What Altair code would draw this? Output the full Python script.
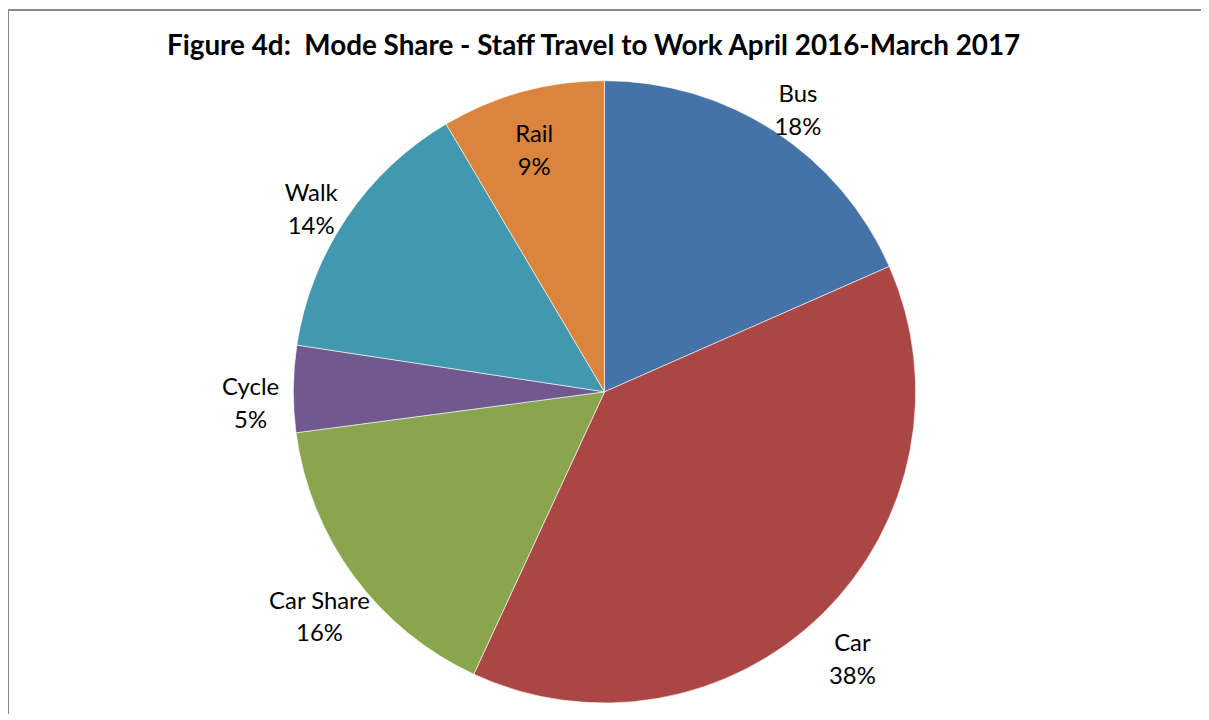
import altair as alt
import pandas as pd

modes = ["Bus", "Car", "Car Share", "Cycle", "Walk", "Rail"]
shares = [18.4, 38.5, 16.0, 4.5, 14.1, 8.5]
pct_labels = ["18%", "38%", "16%", "5%", "14%", "9%"]
colors = ["#4572A7", "#AA4643", "#89A54E", "#71588F", "#4198AF", "#DB843D"]
title_text = ["Figure 4d:\u00a0 Mode Share - Staff Travel to Work April 2016-March 2017"]

df = pd.DataFrame({
    "mode": modes,
    "share": shares,
    "pct": pct_labels,
    "order": list(range(len(modes))),
})
title_df = pd.DataFrame({"title": title_text})

W, H = 1200, 648
R = 313
total = float(sum(shares))
theta_scale = alt.Scale(domain=[0, total])

base = alt.Chart(df).transform_window(
    cum="sum(share)", sort=[alt.SortField("order")],
    frame=[None, 0],
).transform_calculate(
    start="datum.cum - datum.share",
    mid="datum.cum - datum.share / 2",
    label="[datum.mode, datum.pct]",
    lr="datum.mode == 'Rail' ? 268 : 356",
)

pie = base.mark_arc(radius=R, stroke="#ffffff", strokeWidth=0.6).encode(
    theta=alt.Theta("start:Q", scale=theta_scale),
    theta2="cum:Q",
    color=alt.Color("mode:N", scale=alt.Scale(domain=modes, range=colors), legend=None),
)

labels = base.mark_text(
    font="Lato", fontSize=24, color="#000000", lineHeight=33,
    align="center", baseline="middle",
).encode(
    theta=alt.Theta("mid:Q", scale=theta_scale),
    radius=alt.Radius("lr:Q", scale=None),
    text="label:N",
)

title = alt.Chart(title_df).mark_text(
    font="Lato", fontSize=28, fontWeight="bold", color="#000000",
    align="center", baseline="alphabetic",
).encode(
    x=alt.value(W / 2 - 11), y=alt.value(-15), text="title:N"
)

border_top = alt.Chart(title_df).mark_rule(color="#898989", strokeWidth=2).encode(
    x=alt.value(0), x2=alt.value(W), y=alt.value(-60)
)
border_left = alt.Chart(title_df).mark_rule(color="#898989", strokeWidth=2).encode(
    x=alt.value(0), y=alt.value(-60), y2=alt.value(H)
)

chart = alt.layer(pie, labels, title, border_top, border_left).properties(
    width=W,
    height=H,
    padding={"top": 60, "left": 0, "right": 0, "bottom": 0},
    autosize=alt.AutoSizeParams(type="none"),
    background="#ffffff",
).configure_view(stroke="transparent", strokeWidth=0)

chart.save("out.html", embed_options={"renderer": "svg", "actions": False})
